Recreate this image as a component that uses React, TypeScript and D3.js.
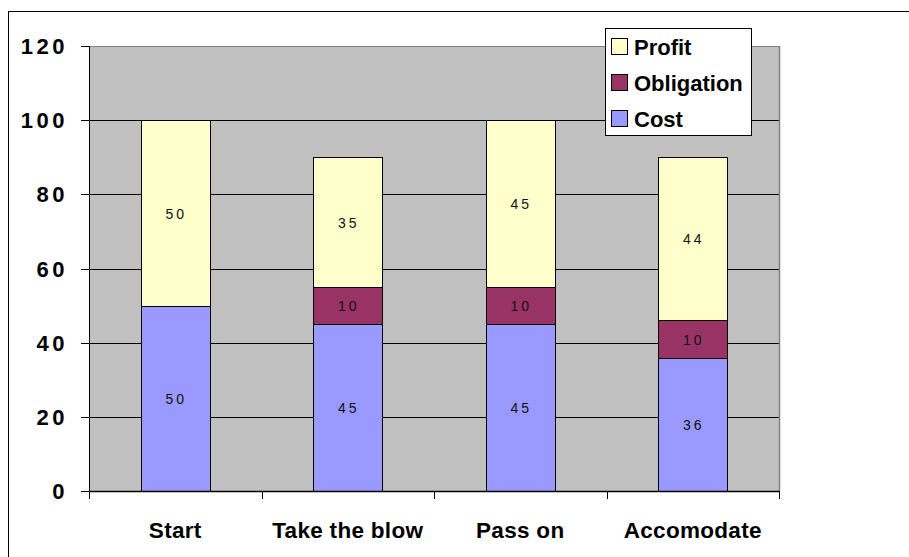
import React from "react";
import * as d3 from "d3";

const categories = ["Start", "Take the blow", "Pass on", "Accomodate"];
const cost = [50, 45, 45, 36];
const obligation = [0, 10, 10, 10];
const profit = [50, 35, 45, 44];
const seriesNames = ["Cost", "Obligation", "Profit"];
const seriesColors = ["#9999FF", "#993366", "#FFFFCC"];
const yTicks = [0, 20, 40, 60, 80, 100, 120];

export default function App() {
  const W = 909, H = 557;
  const left = 89, right = 779, top = 46, bottom = 491;
  const x = d3.scaleBand<string>().domain(categories).range([left, right]).paddingInner(0).paddingOuter(0);
  const y = d3.scaleLinear().domain([0, 120]).range([bottom, top]);
  const rows = categories.map((c, i) => ({ cat: c, Cost: cost[i], Obligation: obligation[i], Profit: profit[i] }));
  const stack = d3.stack<any>().keys(seriesNames)(rows);
  const bw = x.bandwidth() * 0.4;
  const font = "Arial, 'Liberation Sans', sans-serif";
  const legendItems = [
    { name: "Profit", color: seriesColors[2] },
    { name: "Obligation", color: seriesColors[1] },
    { name: "Cost", color: seriesColors[0] },
  ];
  return (
    <svg width={W} height={H} style={{ position: "absolute", left: 0, top: 0, background: "#fff" }} fontFamily={font}>
      <rect x={8.5} y={11.5} width={W + 10} height={H + 10} fill="#fff" stroke="#000" strokeWidth={1} />
      <rect x={left} y={top} width={right - left} height={bottom - top} fill="#C0C0C0" />
      {yTicks.map((t) => (
        <g key={t}>
          {t > 0 && t < 120 && (
            <line x1={left} x2={right} y1={Math.round(y(t)) + 0.5} y2={Math.round(y(t)) + 0.5} stroke="#000" strokeWidth={1} />
          )}
          <line x1={81} x2={left} y1={Math.round(y(t)) + 0.5} y2={Math.round(y(t)) + 0.5} stroke="#000" />
          <text x={68} y={y(t) + 8} textAnchor="end" fontSize={22} fontWeight="bold" letterSpacing={3.5} fill="#000">
            {t}
          </text>
        </g>
      ))}
      <line x1={right + 0.5} x2={right + 0.5} y1={top} y2={bottom} stroke="#808080" strokeWidth={1.5} />
      <line x1={left} x2={right} y1={top + 0.5} y2={top + 0.5} stroke="#808080" strokeWidth={1} />
      {stack.map((s, si) =>
        s.map((d, i) => {
          const v = d[1] - d[0];
          if (v <= 0) return null;
          const cx = (x(categories[i]) as number) + x.bandwidth() / 2;
          const y0 = Math.round(y(d[0])) + 0.5;
          const y1 = Math.round(y(d[1])) + 0.5;
          return (
            <g key={si + "-" + i}>
              <rect x={Math.round(cx - bw / 2) + 0.5} y={y1} width={Math.round(bw)} height={y0 - y1} fill={seriesColors[si]} stroke="#000" strokeWidth={1} />
              <text x={cx + 1} y={(y0 + y1) / 2 + 5} textAnchor="middle" fontSize={14} letterSpacing={3} fill="#111">
                {v}
              </text>
            </g>
          );
        })
      )}
      <line x1={left + 0.5} x2={left + 0.5} y1={top} y2={bottom + 8} stroke="#000" strokeWidth={1} />
      <line x1={left} x2={right} y1={bottom + 0.5} y2={bottom + 0.5} stroke="#000" strokeWidth={1.5} />
      {categories.concat([""]).map((c, i) => {
        const xx = left + i * x.bandwidth();
        return <line key={i} x1={Math.round(xx) + 0.5} x2={Math.round(xx) + 0.5} y1={bottom} y2={bottom + 8} stroke="#000" />;
      })}
      {categories.map((c) => (
        <text key={c} x={(x(c) as number) + x.bandwidth() / 2} y={538} textAnchor="middle" fontSize={22.5} fontWeight="bold" letterSpacing={0.3} fill="#000">
          {c}
        </text>
      ))}
      <rect x={605.5} y={28.5} width={146} height={107} fill="#fff" stroke="#000" strokeWidth={1} />
      {legendItems.map((it, i) => (
        <g key={it.name}>
          <rect x={611.5} y={38.5 + i * 36} width={16} height={16} fill={it.color} stroke="#000" />
          <text x={634} y={55 + i * 36} fontSize={22} fontWeight="bold" fill="#000">
            {it.name}
          </text>
        </g>
      ))}
    </svg>
  );
}
